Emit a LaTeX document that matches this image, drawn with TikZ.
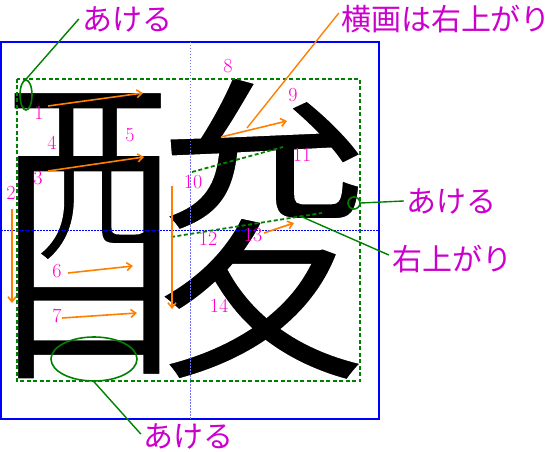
\documentclass[tikz,border=0pt]{standalone}
\usepackage{graphicx}
\usepackage{fontspec}
\newfontfamily\jpfont{Noto Sans CJK JP}
\newfontfamily\kanjifont[FakeBold=1.8]{Noto Sans CJK JP}
\usetikzlibrary{arrows.meta, shapes.geometric}
\definecolor{labelpurple}{RGB}{204,0,204}
\definecolor{numpink}{RGB}{255,0,204}
\definecolor{strokeorange}{RGB}{255,128,0}
\definecolor{guidegreen}{RGB}{0,128,0}

\begin{document}
\begin{tikzpicture}[x=1pt, y=-1pt,
    num/.style={text=numpink, font=\fontsize{20}{20}\selectfont, inner sep=0pt},
    jplabel/.style={text=labelpurple, font=\jpfont\fontsize{30}{30}\selectfont, inner sep=0pt},
    strokearrow/.style={-{Straight Barb[length=5pt, width=8pt]}, strokeorange, line width=1.6pt},
    guide/.style={guidegreen, line width=1.8pt, dash pattern=on 4pt off 2.5pt},
    gapmark/.style={draw=guidegreen, ellipse, line width=1.6pt, inner sep=0pt},
    pointer/.style={guidegreen, line width=1.4pt},
    centerline/.style={line width=0.8pt, dash pattern=on 1.5pt off 1.5pt}
  ]
    \useasboundingbox (0,0) rectangle (558,452);

    % ── Character (black fill, white outline stroke to thin it) ──
    \node[inner sep=0pt] (kanji) at (182.5,228.5)
      {\resizebox{384pt}{281pt}{\special{pdf:bcolor [0] [1]}\kanjifont 酸\special{pdf:ecolor}}};

    % ── Frame, guides ──
    \draw[blue, line width=2pt] (1,42) rectangle (379,419);
    \draw[centerline, blue!55] (190,42) -- (190,419);
    \draw[centerline, blue] (1,230) -- (379,230);
    \draw[guide] (17,79) rectangle (360,381);

    \coordinate (g10a) at (192,172);
    \coordinate (g10b) at (283,147);
    \coordinate (g12a) at (171,237);
    \coordinate (g12b) at (322,213);
    \draw[guide] (g10a) -- (g10b);
    \draw[guide] (g12a) -- (g12b);

    % ── Stroke numbers ──
    \foreach \n/\x/\y in {1/39/113, 2/11/193, 3/38/178, 4/52/143, 5/130/135,
                          6/57/271, 7/57/316, 8/228/66, 9/293/95, 10/193/182,
                          11/302/155, 12/208/239, 13/253/235, 14/219/306}
      \node[num] (n\n) at (\x,\y) {\n};

    % ── Stroke directions ──
    \foreach \n/\ax/\ay/\bx/\by in {1/48/106/143/93, 3/48/171/144/157,
                                    6/68/273/133/266, 7/62/318/137/313,
                                    2/12/209/12/303, 5/172/186/172/309,
                                    9/221/137/287/121, 13/264/233/294/223} {
      \coordinate (s\n a) at (\ax,\ay);
      \coordinate (s\n b) at (\bx,\by);
      \draw[strokearrow] (s\n a) -- (s\n b);
    }

    % ── Notes ──
    \node[jplabel] (akeTop) at (127,19) {あける};
    \node[jplabel] (yokokaku) at (446,19) {横画は右上がり};
    \node[jplabel] (akeRight) at (451,201) {あける};
    \node[jplabel] (migiue) at (452,259) {右上がり};
    \node[jplabel] (akeBottom) at (188,436) {あける};

    \node[gapmark, minimum width=12pt, minimum height=30pt] (gapTop) at (26,95) {};
    \node[gapmark, circle, minimum size=12pt] (gapRight) at (354,203) {};
    \node[gapmark, minimum width=86pt, minimum height=44pt] (gapBottom) at (94,359) {};
    \coordinate (riseMark) at (300,216);
    \coordinate (yokoMark) at (247,128);

    \draw[pointer] (gapTop.north) -- ([xshift=-3pt]akeTop.west);
    \draw[pointer] (gapRight.east) -- ([xshift=-2pt]akeRight.west);
    \draw[pointer] (gapBottom.south) -- ([xshift=-2pt, yshift=2pt]akeBottom.west);
    \draw[pointer] (riseMark) -- ([xshift=-3pt, yshift=4pt]migiue.west);
    \draw[strokeorange, line width=1.4pt] (yokoMark) -- ([xshift=-2pt, yshift=6pt]yokokaku.west);

\end{tikzpicture}
\end{document}
